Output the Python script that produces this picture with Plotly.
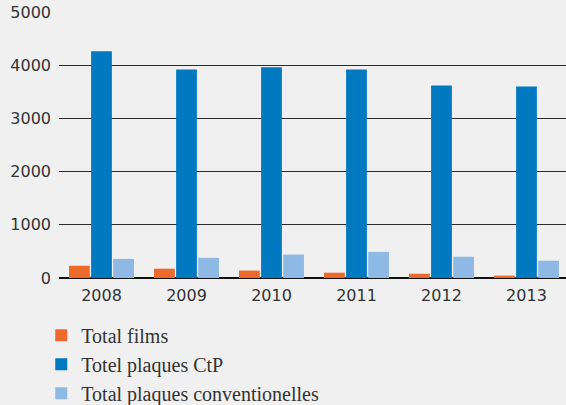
import plotly.graph_objects as go

# Annual consumption figures, 2008-2013
years = ["2008", "2009", "2010", "2011", "2012", "2013"]
films = [230, 175, 140, 100, 80, 45]
plaques_ctp = [4260, 3920, 3960, 3920, 3620, 3600]
plaques_conv = [360, 380, 440, 490, 400, 325]

series_names = ["Total films", "Totel plaques CtP", "Total plaques conventionelles"]
series_colors = ["#EE6A2C", "#0079C1", "#8EB9E4"]

fig = go.Figure()
for i, (name, vals, col) in enumerate(zip(series_names, [films, plaques_ctp, plaques_conv], series_colors)):
    fig.add_trace(go.Bar(
        x=years, y=vals, name=name, marker=dict(color=col, line=dict(width=0)),
        legendgroup=f"g{i}",
    ))

fig.update_layout(
    width=566, height=405,
    margin=dict(l=59, r=0, t=12, b=127, autoexpand=False),
    paper_bgcolor="#F0F0F0", plot_bgcolor="#F0F0F0",
    barmode="group", bargap=0.22, bargroupgap=0.06,
    showlegend=True,
    legend=dict(
        orientation="v", x=-0.035, xanchor="left", y=-0.142, yanchor="top",
        bgcolor="rgba(0,0,0,0)", tracegroupgap=0,
        font=dict(family="Liberation Serif, serif", size=20, color="#333333"),
    ),
    font=dict(family="DejaVu Sans", size=16, color="#333333"),
)
fig.update_xaxes(
    type="category", range=[-0.5, 5.465], showgrid=False, showline=False,
    ticks="outside", ticklen=3, tickcolor="rgba(0,0,0,0)",
    tickfont=dict(family="DejaVu Sans", size=16, color="#333333"),
)
fig.update_yaxes(
    range=[0, 5000], dtick=1000, showgrid=True, gridcolor="#2A2A2A", gridwidth=1,
    zeroline=True, zerolinecolor="#111111", zerolinewidth=1.5, showline=False,
    ticks="", ticklabelstandoff=7,
    tickfont=dict(family="DejaVu Sans", size=16, color="#333333"),
)

fig.write_html("out.html")
